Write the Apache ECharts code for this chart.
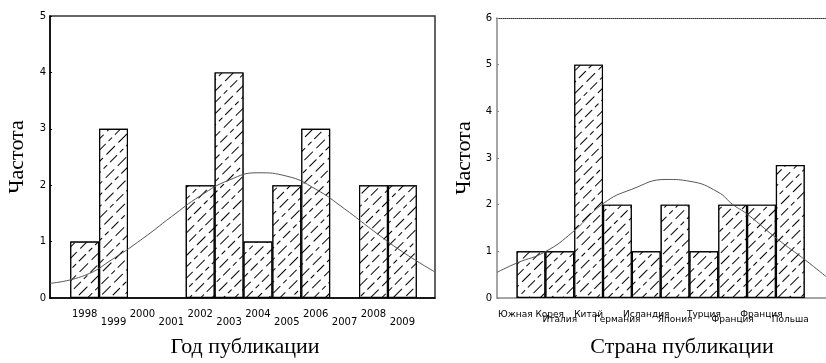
<!DOCTYPE html>
<html>
<head>
<meta charset="utf-8">
<script src="https://cdn.jsdelivr.net/npm/echarts@6/dist/echarts.min.js"></script>
<style>
  html, body { margin: 0; padding: 0; background: #fff; }
  #chart { width: 826px; height: 363px; }
</style>
</head>
<body>
<div id="chart"></div>
<script>
"use strict";
// левый график: год публикации
var years = [1998, 1999, 2000, 2001, 2002, 2003, 2004, 2005, 2006, 2007, 2008, 2009];
var yearCounts = [1, 3, 0, 0, 2, 4, 1, 2, 3, 0, 2, 2];
var yearCurveX = [1996.8, 1998, 1999, 2000, 2001, 2002, 2003, 2004, 2005, 2006, 2007, 2008, 2009, 2010.13];
var yearCurveY = [0.26, 0.4, 0.7, 1.05, 1.44, 1.81, 2.09, 2.22, 2.16, 1.93, 1.58, 1.19, 0.82, 0.46];

// правый график: страна публикации
var countries = ['Южная Корея', 'Италия', 'Китай', 'Германия', 'Исландия', 'Япония', 'Турция', 'Франция', 'Франция', 'Польша'];
var countryCounts = [1, 1, 5, 2, 1, 2, 1, 2, 2, 2.85];
var countryCurveX = [-1.18, -0.49, 0.49, 1.46, 2.5, 3.5, 4.72, 5.52, 6.49, 7.01, 7.5, 8.54, 9.55, 10.24];
var countryCurveY = [0.55, 0.75, 0.99, 1.42, 2.02, 2.33, 2.54, 2.5, 2.27, 2.0, 1.8, 1.27, 0.8, 0.46];

var tickFont = 'DejaVu Sans';
var titleFont = 'Liberation Serif';

var hatch = {
    color: '#000',
    backgroundColor: '#fff',
    symbol: 'rect',
    symbolSize: 1,
    dashArrayX: [[12, 5], [5, 4, 10, 4]],
    dashArrayY: [1, 7],
    rotation: -Math.PI / 4
};

//подписи в два ряда: чётные сверху, нечётные снизу
function labelAxis(grid, min, max, values, margin, size, fmt) {
    return {
        gridIndex: grid, type: 'value', min: min, max: max, position: 'bottom',
        axisLine: { show: false }, axisTick: { show: false }, splitLine: { show: false },
        axisLabel: {
            customValues: values, margin: margin,
            fontFamily: tickFont, fontSize: size, color: '#000',
            formatter: fmt
        }
    };
}

function main() {
    var myChart = echarts.init(document.getElementById('chart'), null, { renderer: 'canvas' });
    var yearBars = years.map(function (y, i) {
        return yearCounts[i] > 0 ? [y, yearCounts[i]] : '-';
    });
    var countryIdx = countries.map(function (c, i) { return i; });
    var countryBars = countryIdx.map(function (i) { return [i, countryCounts[i]]; });
    var yearsUp = years.filter(function (y, i) { return i % 2 === 0; });
    var yearsDown = years.filter(function (y, i) { return i % 2 === 1; });
    var idxUp = countryIdx.filter(function (i) { return i % 2 === 0; });
    var idxDown = countryIdx.filter(function (i) { return i % 2 === 1; });
    var countryName = function (v) { return countries[v]; };
    var yearName = function (v) { return String(v); };

    var mainLeft = labelAxis(0, 1996.8, 2010.13, yearsUp, 11, 10, yearName);
    mainLeft.name = 'Год публикации';
    mainLeft.nameLocation = 'middle';
    mainLeft.nameGap = 38;
    mainLeft.nameTextStyle = { fontFamily: titleFont, fontSize: 22, color: '#000', padding: [0, 0, 0, 5] };
    mainLeft.axisLine = { show: true, onZero: false, lineStyle: { color: '#000', width: 1.5 } };

    var mainRight = labelAxis(1, -1.18, 10.24, idxUp, 12, 9, countryName);
    mainRight.name = 'Страна публикации';
    mainRight.nameLocation = 'middle';
    mainRight.nameGap = 38;
    mainRight.nameTextStyle = { fontFamily: titleFont, fontSize: 22, color: '#000', padding: [0, 0, 0, 41] };
    mainRight.axisLine = { show: true, onZero: false, lineStyle: { color: '#888', width: 1.5 } };

    /** @type EChartsOption */
    var option = {
        animation: false,
        backgroundColor: '#fff',
        grid: [
            { left: 50, top: 16, width: 385, height: 286, show: true, borderColor: '#333', borderWidth: 1.5 },
            { left: 497, top: 18, width: 329, height: 287 }
        ],
        xAxis: [
            mainLeft,
            labelAxis(0, 1996.8, 2010.13, yearsDown, 19, 10, yearName),
            mainRight,
            labelAxis(1, -1.18, 10.24, idxDown, 17, 9, countryName),
            {
                gridIndex: 1, type: 'value', min: -1.18, max: 10.24, position: 'top',
                axisLine: { onZero: false, lineStyle: { color: '#333', width: 1, type: 'dotted' } },
                axisTick: { show: false }, axisLabel: { show: false }, splitLine: { show: false }
            }
        ],
        yAxis: [
            {
                gridIndex: 0, type: 'value', min: 0, max: 5, interval: 1,
                name: 'Частота', nameLocation: 'middle', nameGap: 22,
                nameTextStyle: { fontFamily: titleFont, fontSize: 22, color: '#000' },
                axisLine: { show: true, onZero: false, lineStyle: { color: '#000', width: 1.5 } },
                axisTick: { show: true, inside: true, length: 2, lineStyle: { color: '#000' } },
                splitLine: { show: false },
                axisLabel: { fontFamily: tickFont, fontSize: 10, color: '#000', margin: 4 }
            },
            {
                gridIndex: 1, type: 'value', min: 0, max: 6, interval: 1,
                name: 'Частота', nameLocation: 'middle', nameGap: 22,
                nameTextStyle: { fontFamily: titleFont, fontSize: 22, color: '#000' },
                axisLine: { show: true, onZero: false, lineStyle: { color: '#888', width: 1.5 } },
                axisTick: { show: true, inside: true, length: 2, lineStyle: { color: '#888' } },
                splitLine: { show: false },
                axisLabel: { fontFamily: tickFont, fontSize: 10, color: '#000', margin: 5 }
            }
        ],
        series: [
            {
                type: 'bar', xAxisIndex: 0, yAxisIndex: 0, data: yearBars, barWidth: 28.9,
                itemStyle: { color: '#fff', borderColor: '#000', borderWidth: 1.2, decal: hatch }
            },
            {
                type: 'line', xAxisIndex: 0, yAxisIndex: 0, smooth: true, symbol: 'none',
                data: yearCurveX.map(function (x, i) { return [x, yearCurveY[i]]; }),
                lineStyle: { color: '#555', width: 1 }, z: 5
            },
            {
                type: 'bar', xAxisIndex: 2, yAxisIndex: 1, data: countryBars, barWidth: 28.8,
                itemStyle: { color: '#fff', borderColor: '#000', borderWidth: 1.2, decal: hatch }
            },
            {
                type: 'line', xAxisIndex: 2, yAxisIndex: 1, smooth: true, symbol: 'none',
                data: countryCurveX.map(function (x, i) { return [x, countryCurveY[i]]; }),
                lineStyle: { color: '#555', width: 1 }, z: 5
            }
        ]
    };
    myChart.setOption(option);
}
main();
</script>
</body>
</html>
